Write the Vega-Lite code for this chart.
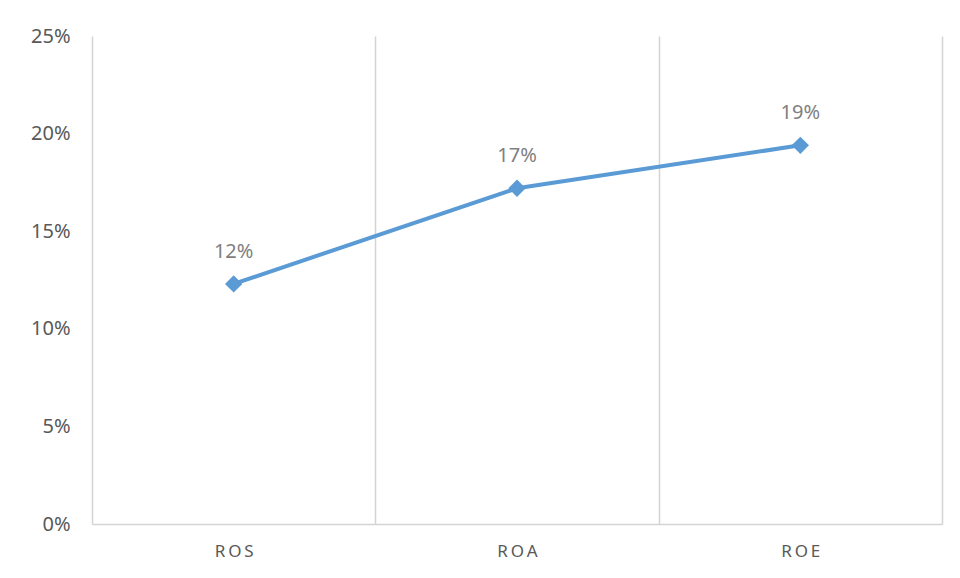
{
  "$schema": "https://vega.github.io/schema/vega-lite/v6.json",
  "width": 850,
  "height": 488,
  "autosize": {"type": "none"},
  "padding": {"left": 92, "top": 36, "right": 18, "bottom": 54},
  "background": "white",
  "config": {"view": {"stroke": null}},
  "data": {
    "values": [
      {"ratio": "ROS", "value": 0.123},
      {"ratio": "ROA", "value": 0.172},
      {"ratio": "ROE", "value": 0.194}
    ]
  },
  "encoding": {
    "x": {
      "field": "ratio",
      "type": "nominal",
      "sort": null,
      "scale": {"type": "band", "paddingInner": 0, "paddingOuter": 0},
      "axis": {
        "title": null,
        "labelAngle": 0,
        "ticks": false,
        "tickBand": "extent",
        "grid": true,
        "gridColor": "#d4d4d4",
        "gridWidth": 1.5,
        "domainColor": "#d4d4d4",
        "domainWidth": 1.5,
        "labelPadding": 19,
        "labelFont": "Noto Sans",
        "labelFontSize": 17,
        "labelColor": "#595959",
        "labelExpr": "join(split(datum.label, ''), '\u2009')"
      }
    },
    "y": {
      "field": "value",
      "type": "quantitative",
      "scale": {"domain": [0, 0.25]},
      "axis": {
        "title": null,
        "values": [0, 0.05, 0.1, 0.15, 0.2, 0.25],
        "format": ".0%",
        "grid": false,
        "ticks": false,
        "domain": false,
        "labelPadding": 22,
        "labelFont": "Noto Sans",
        "labelFontSize": 20,
        "labelColor": "#595959"
      }
    }
  },
  "layer": [
    {"mark": {"type": "line", "color": "#5b9bd5", "strokeWidth": 4}},
    {"mark": {"type": "point", "shape": "diamond", "filled": true, "size": 300, "color": "#5b9bd5", "opacity": 1}},
    {
      "mark": {"type": "text", "dy": -32, "font": "Noto Sans", "fontSize": 20, "color": "#7f7f7f"},
      "encoding": {"text": {"field": "value", "format": ".0%"}}
    }
  ]
}
